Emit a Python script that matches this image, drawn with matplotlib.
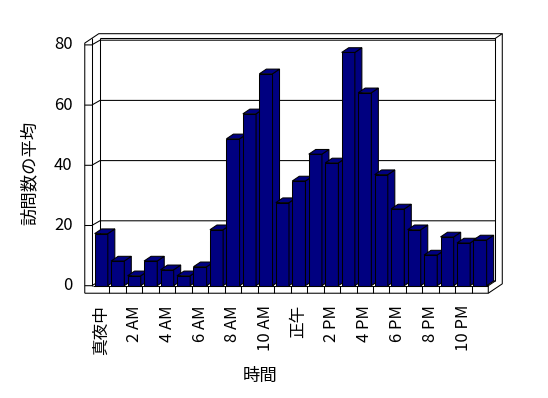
import matplotlib
matplotlib.use("Agg")
import matplotlib.pyplot as plt
from matplotlib.patches import Polygon

plt.rcParams["font.family"] = ["Noto Sans CJK JP", "DejaVu Sans"]

# average visits per hour of day
hours = list(range(24))
visits = [17.3, 8.2, 3.3, 8.2, 5.3, 3.3, 6.3, 18.6,
          48.8, 57.1, 70.4, 27.6, 34.8, 43.7, 40.8, 77.5,
          64.1, 36.9, 25.5, 18.6, 10.2, 16.2, 14.2, 15.2]
tick_labels = ["真夜中", "2 AM", "4 AM", "6 AM", "8 AM", "10 AM",
               "正午", "2 PM", "4 PM", "6 PM", "8 PM", "10 PM"]
y_ticks = [0, 20, 40, 60, 80]

bar_color = "#000080"

# pixel layout of the front plane
W, H = 548, 398
X0, SLOT = 93.0, 16.47      # px of slot 0, px per slot
Y0, VPX = 285.7, 3.01       # px of value 0, px per unit

# oblique depth offset (one depth unit) in data units
DX = 7.0 / SLOT
DY = 4.7 / VPX
WALL = 0.5        # left wall thickness in slots
FLOOR = 2.5       # floor thickness in value units
TOP = 80.6
N = len(hours)


def proj(x, v, z=0.0):
    return (x + z * DX, v + z * DY)


fig = plt.figure(figsize=(W / 100, H / 100), dpi=100)
ax = fig.add_axes([0, 0, 1, 1])
ax.set_xlim(-X0 / SLOT, (W - X0) / SLOT)
ax.set_ylim((Y0 - H) / VPX, Y0 / VPX)
ax.axis("off")

lw = 0.75
kw = dict(color="black", lw=lw, solid_capstyle="butt")


def line(*pts):
    xs = [p[0] for p in pts]
    ys = [p[1] for p in pts]
    ax.plot(xs, ys, **kw)


# walls outline
line(proj(-WALL, -FLOOR), proj(-WALL, TOP), proj(-WALL, TOP, 2), proj(N, TOP, 2),
     proj(N, TOP, 1))
line(proj(-WALL, TOP, 1), (proj(-WALL, TOP, 1)[0], 0))
line(proj(0, TOP, 1), proj(N, TOP, 1), proj(N, 0, 1))
line(proj(0, TOP, 1), proj(0, 0, 1))
line(proj(N, TOP, 2), proj(N, -FLOOR, 2), proj(N, -FLOOR))

# gridlines / ticks
xs_wall = proj(-WALL, 0, 1)[0]
for t in y_ticks:
    line(proj(-WALL, t), (xs_wall, t), proj(0, t, 1), proj(N, t, 1))
    ax.text(-(X0 - 72.7) / SLOT, t, str(t), ha="right", va="center", fontsize=12)

# floor
line(proj(-WALL, -FLOOR), proj(N, -FLOOR), proj(N, 0), proj(N, 0, 1))
line(proj(0, 0), proj(N, 0))
for k in range(1, N):
    line(proj(k, -FLOOR), proj(k, 0))

# bars
x_lo, x_hi = 0.1, 0.9
for h, v in zip(hours, visits):
    a, b = h + x_lo, h + x_hi
    faces = [
        [proj(a, 0), proj(b, 0), proj(b, v), proj(a, v)],
        [proj(b, 0), proj(b, 0, 1), proj(b, v, 1), proj(b, v)],
        [proj(a, v), proj(b, v), proj(b, v, 1), proj(a, v, 1)],
    ]
    for f in faces:
        ax.add_patch(Polygon(f, closed=True, facecolor=bar_color,
                             edgecolor="black", lw=lw, zorder=3))

# category labels
for i, lab in enumerate(tick_labels):
    ax.text(2 * i + 0.5, (Y0 - 305) / VPX, lab, rotation=90,
            ha="center", va="top", fontsize=12)

fig.text(260 / W, 1 - 376 / H, "時間", ha="center", va="center", fontsize=12.5)
fig.text(30 / W, 1 - 172.5 / H, "訪問数の平均", rotation=90,
         ha="center", va="center", fontsize=12.5)

fig.savefig("out.png", dpi=100)
